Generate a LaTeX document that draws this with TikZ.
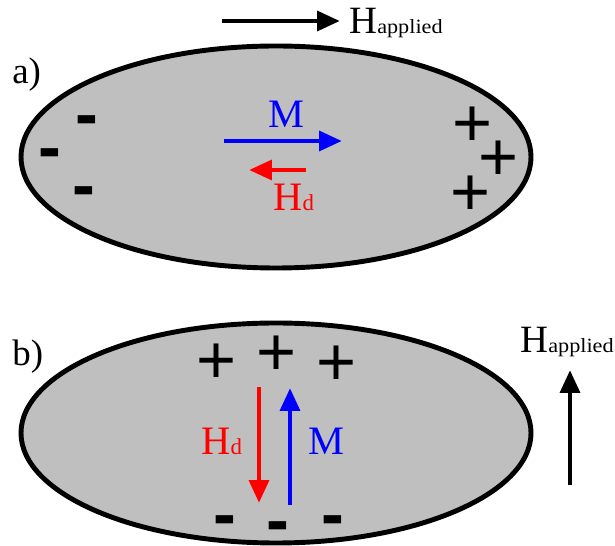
\documentclass[tikz,border=0pt]{standalone}
\usepackage{fontspec}
\setmainfont{Liberation Serif}
\newfontfamily\chargefont{Liberation Sans}
\usetikzlibrary{arrows.meta}
\newcommand{\happl}{{\fontsize{22}{22}\selectfont H\fontsize{11.5}{11.5}\selectfont\scalebox{1.1}[1]{applied}}}
\newcommand{\hdemag}{H{\fontsize{13}{13}\selectfont d}}

\tikzset{
  body/.style={draw=black,fill=black!25,line width=2.8pt},
  field/.style={->,line width=2.8pt},
  lbl/.style={inner sep=0pt,anchor=base west,font=\fontsize{23}{23}\selectfont},
  part/.style={inner sep=0pt,anchor=base west,font=\fontsize{21}{21}\selectfont},
  poscharge/.style={inner sep=0pt,font=\chargefont\fontsize{39}{39}\selectfont,text height=27.8pt,text depth=0pt},
  negcharge/.style={inner sep=0pt,font=\chargefont\bfseries\fontsize{39}{39}\selectfont,text height=19.1pt,text depth=0pt}
}

\begin{document}
\begin{tikzpicture}[x=0.02cm,y=-0.02cm,>={Triangle[length=13pt,width=11pt]}]
  \useasboundingbox (0,0) rectangle (615,546);
  % a) field along the long axis
  \begin{scope}
    \coordinate (appA0) at (222,21);
    \coordinate (appA1) at (340,21);
    \draw[field] (appA0) -- (appA1);
    \node[inner sep=0pt,anchor=base west] (happA) at (349,34) {\happl};
    \node[part] (labA) at (12,84) {a)};
    \draw[body] (276,157) ellipse [x radius=255, y radius=111];
    \coordinate (mA0) at (224,141);
    \coordinate (mA1) at (342,141);
    \draw[field,blue] (mA0) -- (mA1);
    \node[lbl,blue,anchor=base] (mA) at (286,128) {M};
    \coordinate (hdA0) at (306,170);
    \coordinate (hdA1) at (249,170);
    \draw[field,red] (hdA0) -- (hdA1);
    \node[lbl,red] (hdA) at (273,211) {\hdemag};
    \node[negcharge] (negA1) at (87,121) {-};
    \node[negcharge] (negA2) at (50,154) {-};
    \node[negcharge] (negA3) at (84,192) {-};
    \node[poscharge] (posA1) at (473,122) {+};
    \node[poscharge] (posA2) at (499,156) {+};
    \node[poscharge] (posA3) at (471,191) {+};
  \end{scope}
  % b) field along the short axis
  \begin{scope}
    \node[part] (labB) at (12,366) {b)};
    \draw[body] (276,433) ellipse [x radius=255, y radius=110];
    \coordinate (hdB0) at (259,387);
    \coordinate (hdB1) at (259,503);
    \draw[field,red] (hdB0) -- (hdB1);
    \node[lbl,red] (hdB) at (201,455) {\hdemag};
    \coordinate (mB0) at (290,505);
    \coordinate (mB1) at (290,388);
    \draw[field,blue] (mB0) -- (mB1);
    \node[lbl,blue] (mB) at (308,455) {M};
    \node[poscharge] (posB1) at (217,359) {+};
    \node[poscharge] (posB2) at (277,351) {+};
    \node[poscharge] (posB3) at (337,361) {+};
    \node[negcharge] (negB1) at (225,521) {-};
    \node[negcharge] (negB2) at (278,527) {-};
    \node[negcharge] (negB3) at (333,521) {-};
    \coordinate (appB0) at (570,485);
    \coordinate (appB1) at (570,370);
    \draw[field] (appB0) -- (appB1);
    \node[inner sep=0pt,anchor=base west] (happB) at (520,353) {\happl};
  \end{scope}
\end{tikzpicture}
\end{document}
